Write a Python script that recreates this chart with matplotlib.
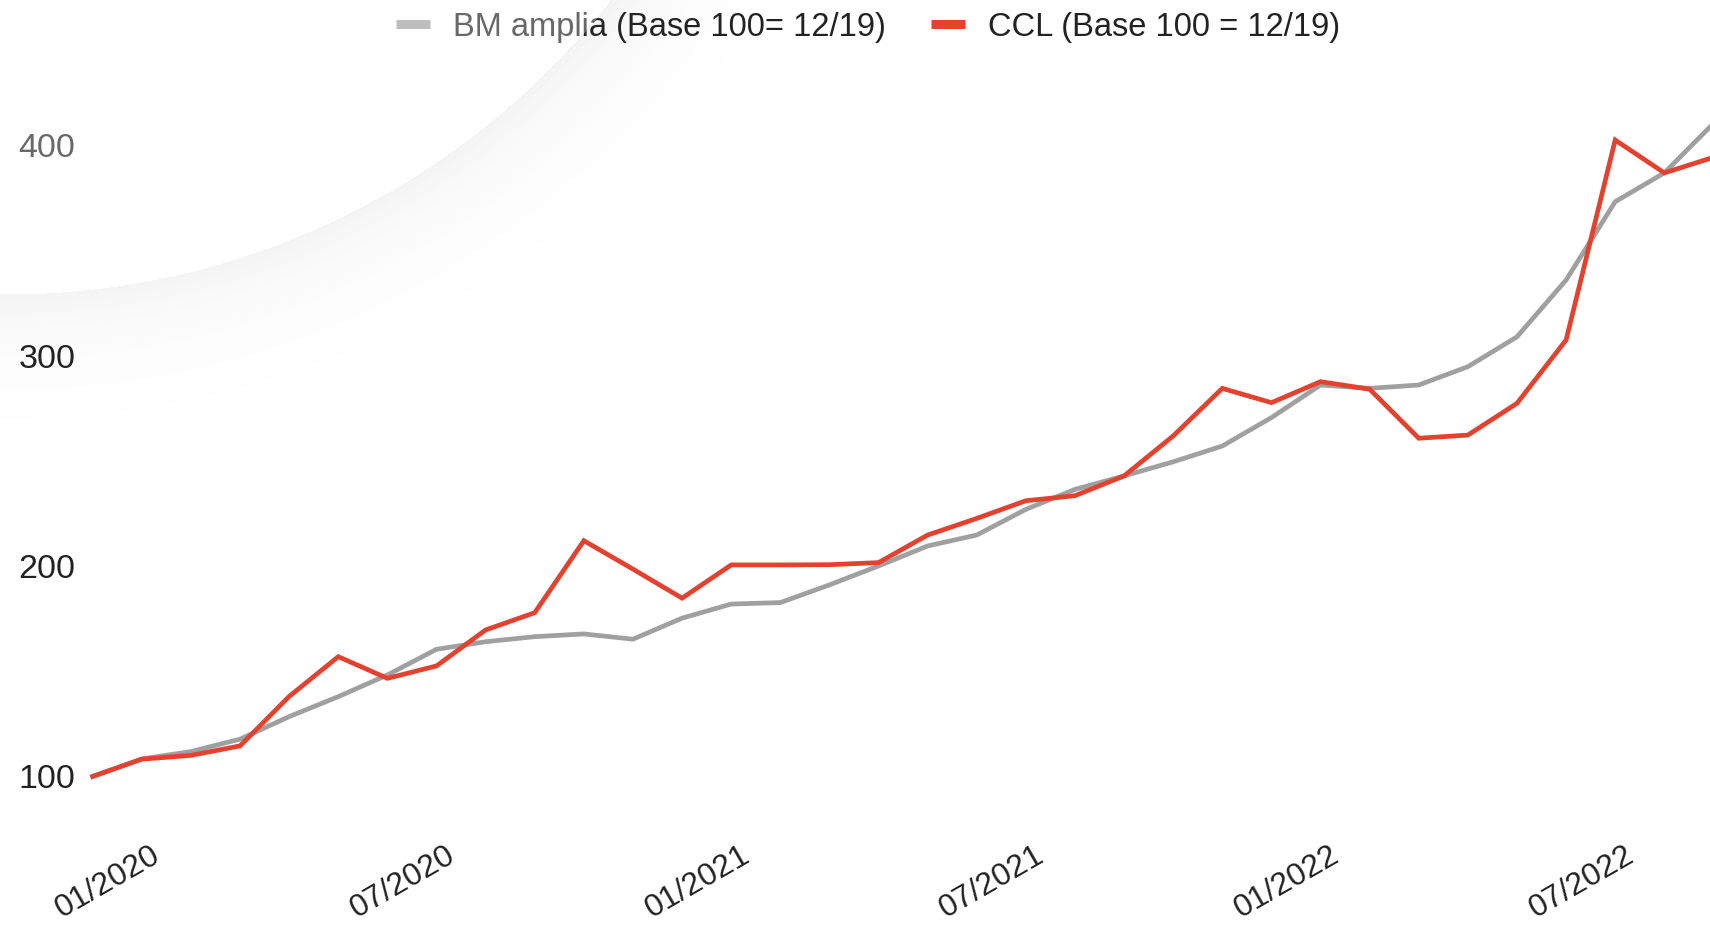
import numpy as np
import matplotlib
matplotlib.use("Agg")
import matplotlib.pyplot as plt
from matplotlib.lines import Line2D
from matplotlib.transforms import ScaledTranslation

plt.rcParams['font.family'] = ['Liberation Sans', 'DejaVu Sans']

# monthly index, base 100 = 12/2019 (12/2019 .. 09/2022)
months = [f"{m:02d}/{y}" for y, m in
          [(2019, 12)] + [(2020 + (i // 12), i % 12 + 1) for i in range(33)]]

bm_amplia = [100, 108.3, 111.8, 117.7, 128.4, 137.9, 148.2, 160.4, 164.0, 166.4,
             167.7, 165.2, 175.2, 181.9, 182.6, 191.0, 200.0, 209.5, 214.7, 226.9,
             236.4, 242.8, 249.5, 257.0, 270.5, 286.0, 284.4, 286.0, 294.7, 308.9,
             335.9, 373.1, 386.8, 410.3]
ccl = [100, 108.2, 110.0, 114.5, 138.0, 156.9, 146.6, 152.5, 169.6, 177.8,
       212.0, 198.5, 184.7, 200.5, 200.5, 200.6, 201.6, 214.7, 222.6, 231.0,
       233.4, 242.8, 261.8, 284.4, 277.6, 287.6, 284.0, 260.7, 262.2, 277.3,
       307.4, 402.4, 386.8, 394.2]

tick_labels = ['01/2020', '07/2020', '01/2021', '07/2021', '01/2022', '07/2022']
y_ticks = [100, 200, 300, 400]

labels = ['BM amplia (Base 100= 12/19)', 'CCL (Base 100 = 12/19)']
gray = '#a0a0a0'
red = '#e5412f'
text_col = '#222222'

x = np.arange(len(months))
tick_pos = [months.index(t) for t in tick_labels]

fig = plt.figure(figsize=(17.1, 9.26), dpi=100)
ax = fig.add_axes([0.0497, 0.1361, 1 - 0.0497, 0.799])
ax.plot(x, bm_amplia, color=gray, lw=3.4, solid_joinstyle='miter', zorder=2)
ax.plot(x, ccl, color=red, lw=3.4, solid_joinstyle='miter', zorder=3)

ax.set_xlim(-0.157, 32.93)
ax.set_ylim(88.8, 440.4)
for s in ax.spines.values():
    s.set_visible(False)
ax.set_yticks(y_ticks)
ax.set_yticklabels([str(v) for v in y_ticks], fontsize=24.5, color=text_col)
ax.set_xticks(tick_pos)
ax.set_xticklabels(tick_labels, fontsize=23, color=text_col, rotation=30,
                   ha='right', va='top', rotation_mode='anchor')
ax.tick_params(axis='y', length=0, pad=7)
ax.tick_params(axis='x', length=0, pad=29)
offset = ScaledTranslation(9 / 100, 0, fig.dpi_scale_trans)
for lab in ax.get_xticklabels():
    lab.set_transform(lab.get_transform() + offset)

handles = [Line2D([], [], color=gray, lw=6.5, solid_capstyle='butt'),
           Line2D([], [], color=red, lw=6.5, solid_capstyle='butt')]
leg = fig.legend(handles, labels, loc='center', bbox_to_anchor=(0.5076, 0.9708),
                 ncol=2, frameon=False, fontsize=23.5, handlelength=1.05,
                 handletextpad=0.7, columnspacing=1.4)
for t in leg.get_texts():
    t.set_color(text_col)

# decorative slide arc in the upper left (semi-white disc with soft shadow)
H, W = 926, 1710
yy, xx = np.mgrid[0:H, 0:W]
d = np.sqrt((xx - 6.5) ** 2 + (yy + 474) ** 2)
r = 768
overlay = np.zeros((H, W, 4))
inside = d < r
overlay[inside] = [1, 1, 1, 0.32]
shade = 0.065 * np.exp(-(d - r) / 45)
overlay[~inside, 0:3] = 0.35
overlay[~inside, 3] = shade[~inside]
bg = fig.add_axes([0, 0, 1, 1], zorder=10)
bg.imshow(overlay, extent=(0, W, H, 0), aspect='auto', interpolation='bilinear')
bg.set_xlim(0, W)
bg.set_ylim(H, 0)
bg.set_axis_off()
bg.patch.set_alpha(0)

fig.savefig('out.png', dpi=100, facecolor='white')
